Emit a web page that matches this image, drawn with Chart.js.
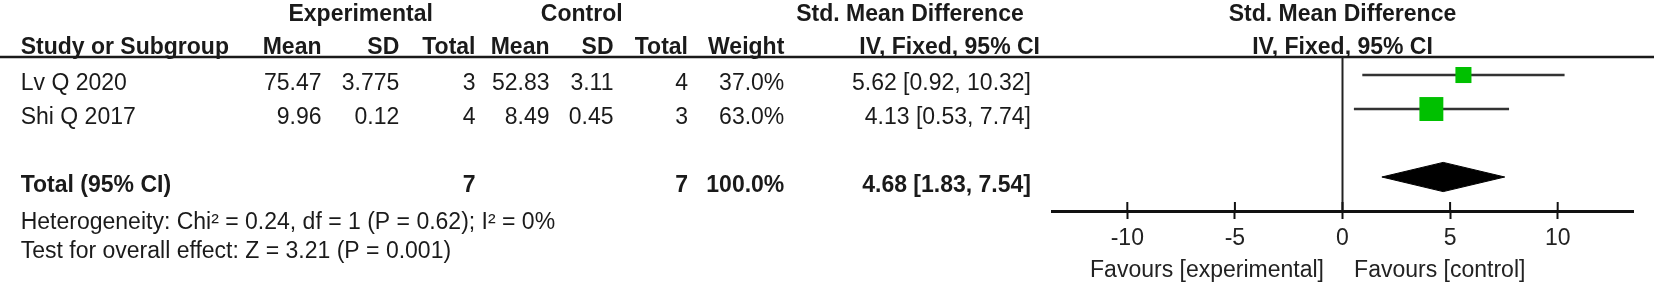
<!DOCTYPE html>
<html>
<head>
<meta charset="utf-8">
<script src="https://cdn.jsdelivr.net/npm/chart.js@4.4.1/dist/chart.umd.min.js"></script>
<style>
  html, body { margin: 0; padding: 0; background: #ffffff; }
  #wrap { width: 1654px; height: 284px; position: relative; }
  canvas { display: block; }
</style>
</head>
<body>
<div id="wrap"><canvas id="c" width="1654" height="284"></canvas></div>
<script>
// ---------------- data ----------------
const studies    = ['Lv Q 2020', 'Shi Q 2017'];
const expMean    = [75.47, 9.96];
const expSD      = [3.775, 0.12];
const expTotal   = [3, 4];
const ctrlMean   = [52.83, 8.49];
const ctrlSD     = [3.11, 0.45];
const ctrlTotal  = [4, 3];
const weights    = [37.0, 63.0];
const smd        = [5.62, 4.13];
const ciLow      = [0.92, 0.53];
const ciHigh     = [10.32, 7.74];
const studyRows  = [1, 2];

const totalLabel  = 'Total (95% CI)';
const totalExp    = [7];
const totalCtrl   = [7];
const totalWeight = [100.0];
const pooled      = [4.68];
const pooledLow   = [1.83];
const pooledHigh  = [7.54];
const totalRow    = [4];

const heterogeneityText = 'Heterogeneity: Chi\u00B2 = 0.24, df = 1 (P = 0.62); I\u00B2 = 0%';
const overallEffectText = 'Test for overall effect: Z = 3.21 (P = 0.001)';
const tickValues   = [-10, -5, 0, 5, 10];
const favoursLeft  = 'Favours [experimental]';
const favoursRight = 'Favours [control]';

// ---------------- styling / layout ----------------
const FONT = '"Liberation Sans", Arial, Helvetica, sans-serif';
const FS = 23;
const TXT = '#1a1a1a';
const COL = { study: 20.7, expMean: 321.5, expSD: 399.3, expTotal: 475.5, ctrlMean: 549.5,
              ctrlSD: 613.5, ctrlTotal: 688, weight: 784.3, ci: 1031 };
const HDR = { exp: 360.7, ctrl: 581.7, smdTable: 910, ivRight: 1040, base1: 21, base2: 54 };
const DIAMOND_HALF = 0.43;   // in row units
function boxSide(w) { return 1.07 * Math.pow(w, 0.75); }

const datasets = [];
studies.forEach((s, i) => {
  datasets.push({
    label: s + ' CI',
    data: [{ x: ciLow[i], y: studyRows[i] }, { x: ciHigh[i], y: studyRows[i] }],
    showLine: true, borderColor: '#333333', borderWidth: 2.5, pointRadius: 0, order: 3
  });
});
datasets.push({
  label: 'Estimates',
  data: smd.map((v, i) => ({ x: v, y: studyRows[i] })),
  showLine: false, pointStyle: 'rect',
  pointRadius: weights.map(w => boxSide(w) / Math.SQRT2),
  backgroundColor: '#00c000', borderColor: '#00c000', borderWidth: 0, order: 1
});
datasets.push({
  label: 'Pooled',
  data: [
    { x: pooledLow[0], y: totalRow[0] },
    { x: pooled[0], y: totalRow[0] - DIAMOND_HALF },
    { x: pooledHigh[0], y: totalRow[0] },
    { x: pooled[0], y: totalRow[0] + DIAMOND_HALF },
    { x: pooledLow[0], y: totalRow[0] }
  ],
  showLine: true, fill: 'shape', tension: 0,
  backgroundColor: '#000000', borderColor: '#000000', borderWidth: 1, pointRadius: 0, order: 2
});

function text(ctx, s, x, y, align, bold, color) {
  ctx.font = (bold ? 'bold ' : '') + FS + 'px ' + FONT;
  ctx.textAlign = align;
  ctx.textBaseline = 'alphabetic';
  ctx.fillStyle = color || TXT;
  ctx.fillText(s, x, y);
}

const forestPlugin = {
  id: 'forest',
  afterDraw(chart) {
    const ctx = chart.ctx;
    const xs = chart.scales.x, ys = chart.scales.y;
    const area = chart.chartArea;
    ctx.save();
    // header rule
    ctx.strokeStyle = '#1a1a1a';
    ctx.lineWidth = 2.5;
    ctx.beginPath();
    ctx.moveTo(0, area.top);
    ctx.lineTo(chart.width, area.top);
    ctx.stroke();
    // line of no effect
    const x0 = xs.getPixelForValue(0);
    ctx.lineWidth = 2;
    ctx.strokeStyle = '#222222';
    ctx.beginPath();
    ctx.moveTo(x0, area.top);
    ctx.lineTo(x0, area.bottom);
    ctx.stroke();
    // upper half of tick marks
    ctx.strokeStyle = '#111111';
    ctx.lineWidth = 2;
    tickValues.forEach(v => {
      const px = xs.getPixelForValue(v);
      ctx.beginPath();
      ctx.moveTo(px, area.bottom - 9);
      ctx.lineTo(px, area.bottom);
      ctx.stroke();
    });

    // headers
    text(ctx, 'Experimental', HDR.exp, HDR.base1, 'center', true);
    text(ctx, 'Control', HDR.ctrl, HDR.base1, 'center', true);
    text(ctx, 'Std. Mean Difference', HDR.smdTable, HDR.base1, 'center', true);
    const pc = (area.left + area.right) / 2;
    text(ctx, 'Std. Mean Difference', pc, HDR.base1, 'center', true);
    text(ctx, 'Study or Subgroup', COL.study, HDR.base2, 'left', true);
    text(ctx, 'Mean', COL.expMean, HDR.base2, 'right', true);
    text(ctx, 'SD', COL.expSD, HDR.base2, 'right', true);
    text(ctx, 'Total', COL.expTotal, HDR.base2, 'right', true);
    text(ctx, 'Mean', COL.ctrlMean, HDR.base2, 'right', true);
    text(ctx, 'SD', COL.ctrlSD, HDR.base2, 'right', true);
    text(ctx, 'Total', COL.ctrlTotal, HDR.base2, 'right', true);
    text(ctx, 'Weight', COL.weight, HDR.base2, 'right', true);
    text(ctx, 'IV, Fixed, 95% CI', HDR.ivRight, HDR.base2, 'right', true);
    text(ctx, 'IV, Fixed, 95% CI', pc, HDR.base2, 'center', true);

    // study rows
    studies.forEach((s, i) => {
      const y = ys.getPixelForValue(studyRows[i]) + 15.3;
      text(ctx, s, COL.study, y, 'left', false);
      text(ctx, String(expMean[i]), COL.expMean, y, 'right', false);
      text(ctx, String(expSD[i]), COL.expSD, y, 'right', false);
      text(ctx, String(expTotal[i]), COL.expTotal, y, 'right', false);
      text(ctx, String(ctrlMean[i]), COL.ctrlMean, y, 'right', false);
      text(ctx, String(ctrlSD[i]), COL.ctrlSD, y, 'right', false);
      text(ctx, String(ctrlTotal[i]), COL.ctrlTotal, y, 'right', false);
      text(ctx, weights[i].toFixed(1) + '%', COL.weight, y, 'right', false);
      text(ctx, smd[i].toFixed(2) + ' [' + ciLow[i].toFixed(2) + ', ' + ciHigh[i].toFixed(2) + ']', COL.ci, y, 'right', false);
    });

    // total row
    const yt = ys.getPixelForValue(totalRow[0]) + 14.5;
    text(ctx, totalLabel, COL.study, yt, 'left', true);
    text(ctx, String(totalExp[0]), COL.expTotal, yt, 'right', true);
    text(ctx, String(totalCtrl[0]), COL.ctrlTotal, yt, 'right', true);
    text(ctx, totalWeight[0].toFixed(1) + '%', COL.weight, yt, 'right', true);
    text(ctx, pooled[0].toFixed(2) + ' [' + pooledLow[0].toFixed(2) + ', ' + pooledHigh[0].toFixed(2) + ']', COL.ci, yt, 'right', true);

    text(ctx, heterogeneityText, COL.study, 229, 'left', false);
    text(ctx, overallEffectText, COL.study, 257.5, 'left', false);

    // favours labels
    text(ctx, favoursLeft, x0 - 18.5, 277, 'right', false, '#222222');
    text(ctx, favoursRight, x0 + 11.6, 277, 'left', false, '#222222');
    ctx.restore();
  }
};

new Chart(document.getElementById('c'), {
  type: 'scatter',
  data: { datasets },
  options: {
    responsive: false,
    devicePixelRatio: 1,
    animation: false,
    events: [],
    layout: { padding: { left: 1052, right: 21, top: 57, bottom: 25.4 } },
    plugins: { legend: { display: false }, tooltip: { enabled: false } },
    scales: {
      x: {
        type: 'linear', position: 'bottom', min: -13.5, max: 13.5,
        afterBuildTicks: s => { s.ticks = tickValues.map(v => ({ value: v })); },
        grid: { display: true, drawOnChartArea: false, drawTicks: true, tickLength: 8,
                tickColor: '#111111', tickWidth: 2, color: '#111111' },
        border: { display: true, color: '#111111', width: 3 },
        ticks: { color: '#222222', font: { family: FONT, size: FS }, padding: 6,
                 maxRotation: 0, minRotation: 0, autoSkip: false }
      },
      y: { type: 'linear', display: false, reverse: true, min: 0.47, max: 5 }
    }
  },
  plugins: [forestPlugin]
});
</script>
</body>
</html>
